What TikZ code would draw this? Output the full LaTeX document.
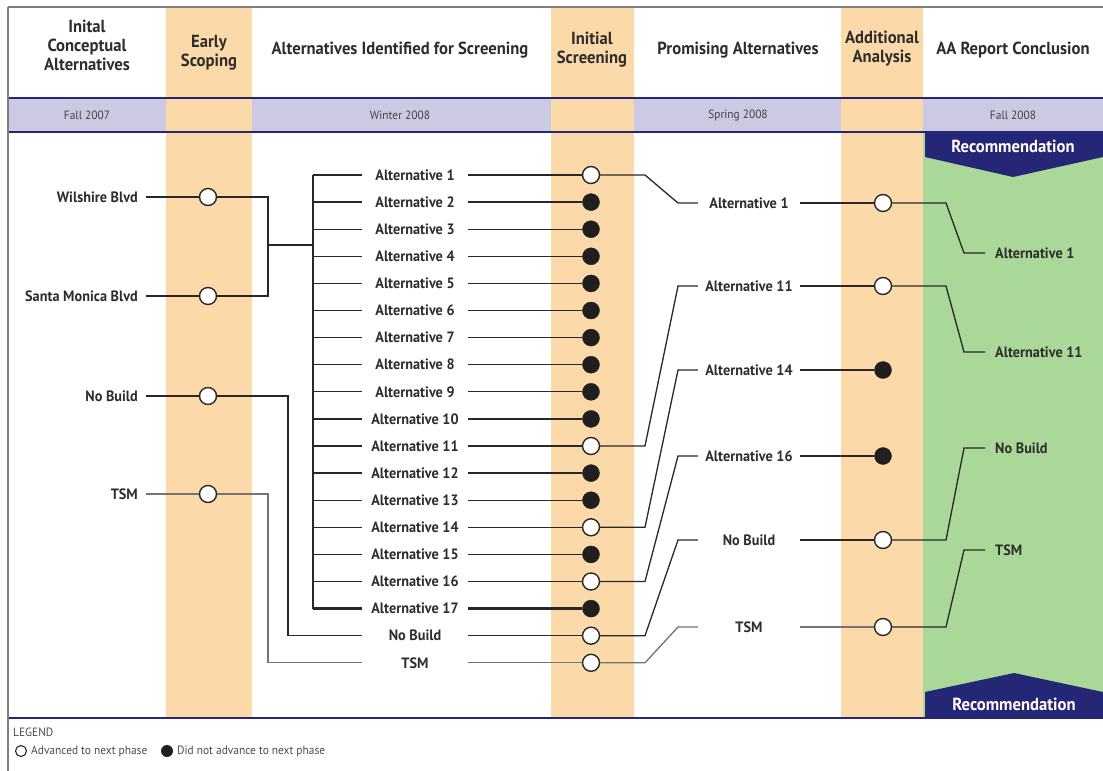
\documentclass[tikz,border=0pt]{standalone}
\usepackage{fontspec}
\setmainfont{PT Sans}[FakeStretch=0.95]
\definecolor{peach}{RGB}{252,217,168}
\definecolor{lav}{RGB}{204,201,226}
\definecolor{navy}{RGB}{38,38,118}
\definecolor{grn}{RGB}{170,216,152}
\definecolor{lnc}{RGB}{40,40,40}
\definecolor{tsmc}{RGB}{115,115,115}
\definecolor{txtc}{RGB}{45,45,45}
\definecolor{framec}{RGB}{125,125,125}
\begin{document}
\begin{tikzpicture}[x=1pt,y=-1pt,
  conn/.style={draw=lnc, line width=1.3pt},
  tconn/.style={draw=tsmc, line width=1.3pt},
  opn/.style={circle, draw=lnc, line width=1.4pt, fill=white, minimum size=17pt, inner sep=0pt},
  shut/.style={circle, fill=black!88, draw=black!88, minimum size=17pt, inner sep=0pt},
  lab/.style={font=\bfseries\fontsize{15}{17}\selectfont, text=txtc, inner sep=0pt, minimum height=12pt},
  midlab/.style={lab, minimum width=106pt},
  prolab/.style={lab, minimum width=102pt},
  leftlab/.style={lab, inner xsep=8pt, anchor=east},
  conlab/.style={lab, inner xsep=10pt, anchor=west},
  head/.style={font=\bfseries\fontsize{17.5}{19}\selectfont, text=txtc, align=center, inner sep=0pt},
  datelab/.style={font=\fontsize{12}{14}\selectfont, text=txtc!90, inner sep=0pt},
  recom/.style={font=\bfseries\fontsize{17.5}{19}\selectfont, text=white, inner sep=0pt},
  leg/.style={font=\fontsize{12}{14}\selectfont, text=txtc!85, inner sep=0pt, anchor=west}
]
\useasboundingbox (0,0) rectangle (1103,771);
\fill[white] (0,0) rectangle (1103,771);
% bands
\fill[lav] (8,98) rectangle (1103,132);
\fill[grn] (923,132) rectangle (1103,718);
\fill[peach] (166,8) rectangle (252,718);
\fill[peach] (551,8) rectangle (634,718);
\fill[peach] (841,8) rectangle (923,718);
\draw[navy, line width=1.3pt] (8,98) -- (1103,98);
\draw[navy, line width=1.3pt] (8,132) -- (1103,132);
\draw[navy, line width=1.3pt] (8,718) -- (1103,718);
\draw[framec, line width=1.5pt] (8,7) -- (1103,7);
\draw[framec, line width=1.5pt] (8,7) -- (8,771);
% banners
\fill[navy] (925,132) -- (1103,132) -- (1103,157) -- (1013,177) -- (925,157) -- cycle;
\fill[navy] (925,718) -- (925,692) -- (1014,673) -- (1103,692) -- (1103,718) -- cycle;
\node[recom] (rtop) at (1013,146) {Recommendation};
\node[recom] (rbot) at (1014,704) {Recommendation};
% headers
\node[head] (h1) at (87,45) {Inital\\Conceptual\\Alternatives};
\node[head] (h2) at (209,53) {Early\\Scoping};
\node[head] (h3) at (400,50) {Alternatives Identified for Screening};
\node[head] (h4) at (592,50) {Initial\\Screening};
\node[head] (h5) at (738,50) {Promising Alternatives};
\node[head] (h6) at (882,49) {Additional\\Analysis};
\node[head] (h7) at (1013,50) {AA Report Conclusion};
% dates
\node[datelab] (t1) at (87,115) {Fall 2007};
\node[datelab] (t2) at (400,115) {Winter 2008};
\node[datelab] (t3) at (738,115) {Spring 2008};
\node[datelab] (t4) at (1013,115) {Fall 2008};
% left column
\node[leftlab] (lw) at (146,197) {Wilshire Blvd};
\node[leftlab] (ls) at (146,296) {Santa Monica Blvd};
\node[leftlab] (ln) at (146,396) {No Build};
\node[leftlab] (lt) at (146,494) {TSM};
\node[opn] (wc) at (208,197) {};
\node[opn] (smc) at (208,296) {};
\node[opn] (nbc) at (208,396) {};
\node[opn] (tsc) at (208,494) {};
\draw[conn] (lw.east) -- (wc);
\draw[conn] (ls.east) -- (smc);
\draw[conn] (ln.east) -- (nbc);
\draw[tconn] (lt.east) -- (tsc);
% alternatives
\foreach \i in {1,...,17} {
  \node[midlab] (a\i) at (415,{175+(\i-1)*27.1}) {Alternative \i};
}
\node[midlab] (a18) at (415,{175+17*27.1}) {No Build};
\node[midlab] (a19) at (415,{175+18*27.1}) {TSM};
\foreach \i/\st in {1/opn,2/shut,3/shut,4/shut,5/shut,6/shut,7/shut,8/shut,9/shut,10/shut,11/opn,12/shut,13/shut,14/opn,15/shut,16/opn,17/shut,18/opn,19/opn} {
  \node[\st] (s\i) at (591,{175+(\i-1)*27.1}) {};
}
\coordinate (bt) at (313,175);
\coordinate (bb) at (313,{175+16*27.1});
\draw[conn] (bt) -- (bb);
\coordinate (j1) at (268,245);
\draw[conn] (wc) -| (j1);
\draw[conn] (j1) |- (smc);
\draw[conn] (j1) -- (j1 -| bt);
\foreach \i in {1,...,16} {
  \draw[conn] (a\i.west) -- (a\i.west -| bt);
  \draw[conn] (a\i.east) -- (s\i);
}
\draw[conn, line width=2.8pt] (a17.west) -- (a17.west -| bt);
\draw[conn, line width=2.8pt] (a17.east) -- (s17);
\coordinate (nbv) at (288,396);
\draw[conn] (nbc) -- (nbv) |- (a18.west);
\draw[conn] (a18.east) -- (s18);
\coordinate (tsv) at (268,494);
\draw[tconn] (tsc) -- (tsv) |- (a19.west);
\draw[tconn] (a19.east) -- (s19);
% promising
\node[prolab] (p1) at (749,203) {Alternative 1};
\node[prolab] (p11) at (749,286) {Alternative 11};
\node[prolab] (p14) at (749,370) {Alternative 14};
\node[prolab] (p16) at (749,456) {Alternative 16};
\node[prolab] (pnb) at (749,540) {No Build};
\node[prolab] (ptsm) at (749,627) {TSM};
\coordinate (k1) at (645,0);
\coordinate (k2) at (678,0);
\foreach \s/\p in {1/p1,11/p11,14/p14,16/p16,18/pnb} {
  \draw[conn] (s\s) -- (s\s -| k1) -- (\p.west -| k2) -- (\p.west);
}
\draw[tconn] (s19) -- (s19 -| k1) -- (ptsm.west -| k2) -- (ptsm.west);
% additional analysis
\node[opn] (d1) at (883,203) {};
\node[opn] (d11) at (883,286) {};
\node[shut] (d14) at (883,370) {};
\node[shut] (d16) at (883,456) {};
\node[opn] (dnb) at (883,540) {};
\node[opn] (dtsm) at (883,627) {};
\foreach \p/\d in {p1/d1,p11/d11,p14/d14,p16/d16,pnb/dnb} {
  \draw[conn] (\p.east) -- (\d);
}
\draw[tconn] (ptsm.east) -- (dtsm);
% conclusion
\node[conlab] (c1) at (985,253) {Alternative 1};
\node[conlab] (c11) at (985,352) {Alternative 11};
\node[conlab] (cnb) at (985,448) {No Build};
\node[conlab] (ctsm) at (985,550) {TSM};
\coordinate (m1) at (946,0);
\coordinate (m2) at (964,0);
\foreach \d/\c in {d1/c1,d11/c11,dnb/cnb,dtsm/ctsm} {
  \draw[conn] (\d) -- (\d -| m1) -- (\c.west -| m2) -- (\c.west);
}
% legend
\node[leg] (lg) at (13,732) {LEGEND};
\node[circle, draw=lnc, line width=1.1pt, fill=white, minimum size=11pt, inner sep=0pt] (lo) at (21,751) {};
\node[leg] (lot) at (31,751) {Advanced to next phase};
\node[circle, fill=black!88, minimum size=12pt, inner sep=0pt] (lf) at (167,751) {};
\node[leg] (lft) at (177,751) {Did not advance to next phase};
\end{tikzpicture}
\end{document}
